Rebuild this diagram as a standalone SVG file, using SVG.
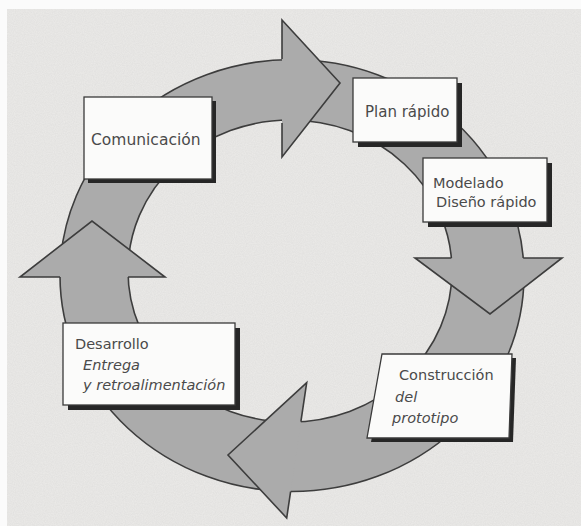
<svg xmlns="http://www.w3.org/2000/svg" width="581" height="526" viewBox="0 0 581 526">
  <style>
    .ring { fill: #ababab; stroke: #3d3d3d; stroke-width: 1.6; fill-rule: evenodd; }
    .head { fill: #ababab; stroke: none; }
    .edge { fill: none; stroke: #3d3d3d; stroke-width: 1.6; stroke-linejoin: miter; }
    .box { fill: #fbfbfa; stroke: #3a3a3a; stroke-width: 1.3; }
    .shadow { fill: #262626; }
    .label { font-family: "DejaVu Sans", "Liberation Sans", sans-serif; font-size: 14.5px; fill: #4a4a4a; }
    .it { font-style: italic; }
  </style>
  <defs>
    <filter id="grain" x="0" y="0" width="100%" height="100%">
      <feTurbulence type="fractalNoise" baseFrequency="0.9" numOctaves="2" seed="3" result="n"/>
      <feColorMatrix in="n" type="matrix" values="0 0 0 0 0.4  0 0 0 0 0.4  0 0 0 0 0.4  0 0 0 0.18 0"/>
    </filter>
  </defs>

  <!-- page -->
  <rect x="0" y="0" width="581" height="526" fill="#ecebe9"/>
  <rect x="0" y="0" width="581" height="526" filter="url(#grain)"/>
  <rect x="0" y="0" width="581" height="9" fill="#fbfbfb"/>
  <rect x="0" y="0" width="7" height="526" fill="#fbfbfb"/>

  <!-- cycle ring with four arrowheads -->
  <g id="connectors">
    <path class="ring" d="M524,275.5 A232,216 0 1 0 60,275.5 A232,216 0 1 0 524,275.5 Z M452,271 A162,151 0 1 1 128,271 A162,151 0 1 1 452,271 Z"/>
    <!-- top: towards Plan rápido -->
    <polygon class="head" points="282,20 340,83 282,157"/>
    <path class="edge" d="M282,59 L282,20 L340,83 L282,157 L282,123"/>
    <!-- right: towards Construcción -->
    <polygon class="head" points="415,258 562,258 490,314"/>
    <path class="edge" d="M451.4,258 L415,258 L490,314 L562,258 L523.2,258"/>
    <!-- bottom: towards Desarrollo -->
    <polygon class="head" points="306.7,382.7 228,455 286.7,518"/>
    <path class="edge" d="M300.9,421.7 L306.7,382.7 L228,455 L286.7,518 L290.6,491.6"/>
    <!-- left: towards Comunicación -->
    <polygon class="head" points="20,277 92,221 165,277"/>
    <path class="edge" d="M60,277 L20,277 L92,221 L165,277 L128.1,277"/>
  </g>

  <g id="comunicacion">
    <rect class="shadow" x="88" y="101" width="128" height="82"/>
    <rect class="box" x="84" y="97" width="128" height="82"/>
    <text class="label" x="91" y="145" style="font-size:15.5px">Comunicación</text>
  </g>

  <g id="plan-rapido">
    <rect class="shadow" x="358" y="83" width="104" height="64"/>
    <rect class="box" x="353" y="78" width="104" height="64"/>
    <text class="label" x="365" y="117" style="font-size:15px">Plan rápido</text>
  </g>

  <g id="modelado">
    <rect class="shadow" x="428" y="163" width="124" height="64"/>
    <rect class="box" x="423" y="158" width="124" height="64"/>
    <text class="label" x="433" y="188">Modelado</text>
    <text class="label" x="436" y="207">Diseño rápido</text>
  </g>

  <g id="construccion">
    <polygon class="shadow" points="386,358 516,358 513,442 371,442"/>
    <polygon class="box" points="382,354 512,354 509,438 367,438"/>
    <text class="label" x="399" y="380">Construcción</text>
    <text class="label it" x="395" y="402">del</text>
    <text class="label it" x="392" y="423">prototipo</text>
  </g>

  <g id="desarrollo">
    <rect class="shadow" x="68" y="328" width="172" height="82"/>
    <rect class="box" x="63" y="323" width="172" height="82"/>
    <text class="label" x="75" y="349">Desarrollo</text>
    <text class="label it" x="83" y="370">Entrega</text>
    <text class="label it" x="83" y="390">y retroalimentación</text>
  </g>
</svg>
